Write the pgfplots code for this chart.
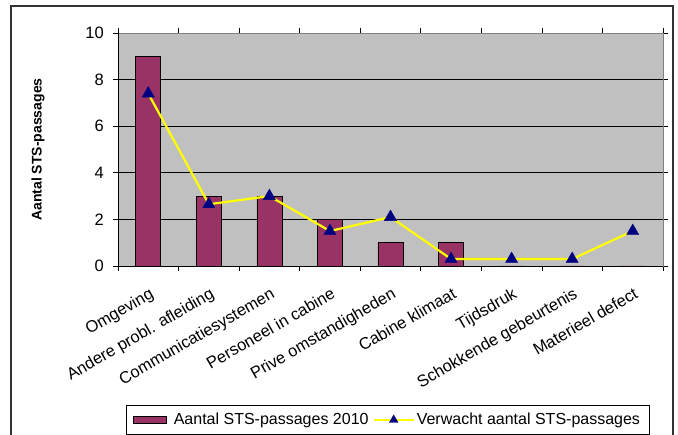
\documentclass[border=0pt]{standalone}
\usepackage{fontspec}
\setmainfont{Liberation Sans}
\usepackage{pgfplots}
\pgfplotsset{compat=1.18}
\definecolor{barcol}{HTML}{993366}
\definecolor{plotbg}{HTML}{C0C0C0}
\definecolor{navymk}{HTML}{000080}
\definecolor{linecol}{HTML}{FFFF00}
\definecolor{boxgray}{HTML}{808080}

\begin{document}
\begin{tikzpicture}
\useasboundingbox (-118pt,-169pt) rectangle (560pt,266pt);
\begin{axis}[
    at={(0pt,0pt)}, anchor=south west,
    scale only axis, width=545pt, height=233pt,
    xmin=0.5, xmax=9.5, ymin=0, ymax=10,
    clip=false,
    axis background/.style={fill=plotbg},
    axis line style={draw=boxgray, line width=0.8pt},
    ytick={0,2,...,10},
    xtick={0.5,1.5,...,9.5},
    xticklabels={},
    tick align=outside,
    major tick length=5pt,
    tick style={black, line width=0.6pt},
    ymajorgrids=true,
    grid style={black, line width=0.6pt},
    /pgf/number format/assume math mode=true,
    yticklabel style={font=\fontsize{16.5}{19}\selectfont, inner sep=0pt, xshift=-9pt},
    x tick label style={rotate=30, anchor=north east, inner sep=0pt, font=\fontsize{16.5}{19}\selectfont, yshift=-18pt, xshift=-10pt},
    extra x ticks={1,...,9},
    extra x tick labels={Omgeving, Andere probl. afleiding, Communicatiesystemen, Personeel in cabine, Prive omstandigheden, Cabine klimaat, Tijdsdruk, Schokkende gebeurtenis, Materieel defect},
    extra x tick style={major tick length=0pt},
    ylabel={Aantal STS-passages},
    every axis y label/.style={at={(axis description cs:-0.1468,0.5)}, rotate=90, anchor=center, font=\bfseries\fontsize{14}{17}\selectfont},
    legend columns=2,
    legend cell align=left,
    legend style={at={(axis description cs:0.0147,-0.5966)}, anchor=north west, draw=black, line width=0.8pt,
        font=\fontsize{16}{19}\selectfont, inner xsep=7pt, inner ysep=6pt,
        /tikz/every even column/.append style={column sep=2pt}},
]
\addplot[ybar, bar width=25pt, fill=barcol, draw=black, line width=0.6pt,
    legend image code/.code={\draw[fill=barcol, draw=black, line width=0.8pt] (0pt,-3.5pt) rectangle (33pt,3.5pt);
        \path[draw=none, fill=none] (0pt,0pt) (38pt,0pt);}]
    coordinates {(1,9) (2,3) (3,3) (4,2) (5,1) (6,1) (7,0) (8,0) (9,0)};
\addlegendentry{Aantal STS-passages 2010}
\addplot[linecol, line width=2.2pt, mark=triangle*, mark size=7pt,
    mark options={fill=navymk, draw=navymk, line width=0.4pt},
    legend image code/.code={\draw[linecol, line width=2.2pt, mark=triangle*, mark size=5pt,
        mark options={fill=navymk, draw=navymk, line width=0.4pt}, mark repeat=2, mark phase=2]
        plot coordinates {(0pt,0pt) (20pt,0pt) (40pt,0pt)};}]
    coordinates {(1,7.4) (2,2.65) (3,3.0) (4,1.5) (5,2.1) (6,0.3) (7,0.3) (8,0.3) (9,1.5)};
\addlegendentry{Verwacht aantal STS-passages}
\draw[black, line width=0.8pt] (rel axis cs:0,1) -- (rel axis cs:0,0) -- (rel axis cs:1,0);
\end{axis}
\draw[black!80, line width=1.2pt] (-107pt,-170pt) -- (-107pt,260pt) -- (555pt,260pt) -- (555pt,-170pt);
\end{tikzpicture}
\end{document}
